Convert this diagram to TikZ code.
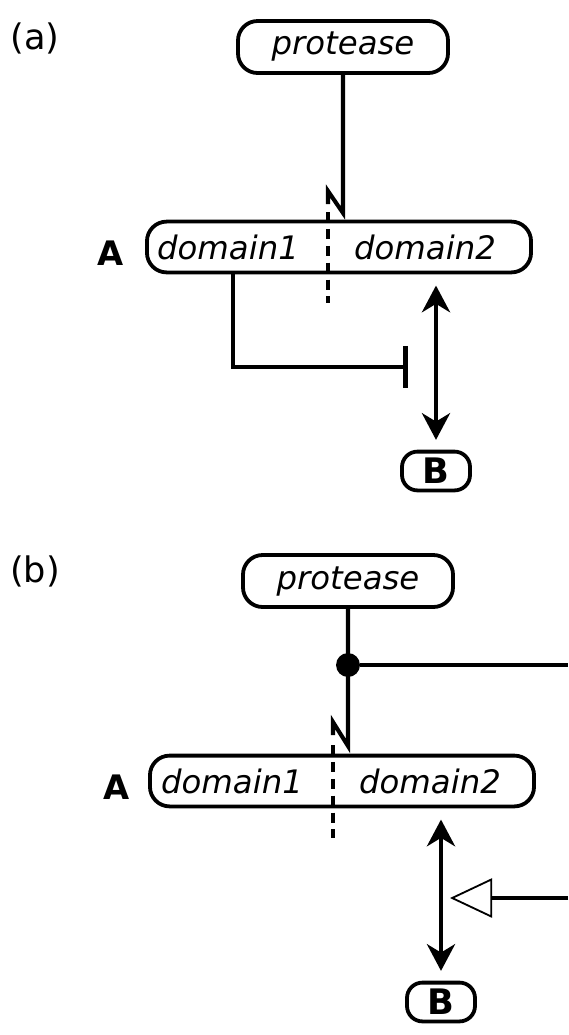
\documentclass[tikz,border=0pt]{standalone}
\usepackage{fontspec}
\setsansfont{DejaVu Sans}
\usetikzlibrary{arrows.meta,shapes,calc}
\tikzset{
  rbox/.style = {draw=black, line width=2.7pt, rounded corners=14pt, inner sep=0pt},
  box_p/.style = {rbox, minimum width=5.25cm, minimum height=1.3cm, font=\sffamily\itshape\fontsize{23}{26}\selectfont},
  box_d/.style = {rbox, minimum width=9.6cm, minimum height=1.27cm},
  box_b/.style = {rbox, minimum width=1.7cm, minimum height=0.97cm, rounded corners=11pt, font=\sffamily\bfseries\fontsize{25}{28}\selectfont},
  dtext/.style = {inner sep=0pt, font=\sffamily\itshape\fontsize{23}{26}\selectfont},
  albl/.style = {inner sep=0pt, font=\sffamily\bfseries\fontsize{24}{26}\selectfont},
  plbl/.style = {inner sep=0pt, font=\sffamily\fontsize{25}{28}\selectfont},
  wire/.style = {line width=2.9pt},
  brk/.style = {line width=2.2pt, dash pattern=on 7.5pt off 4.5pt},
  bind/.style = {wire, {Stealth[length=19pt,width=20pt,inset=6pt]}-{Stealth[length=19pt,width=20pt,inset=6pt]}},
  knob/.style = {circle, fill=black, inner sep=0pt, minimum size=17pt}
}

\begin{document}
\begin{tikzpicture}[x=0.025cm,y=-0.025cm]
\useasboundingbox (0,0) rectangle (568,1035);

% (a)
\node [plbl] (pa) at (35,38) {(a)};
\node [box_p] (prota) at (343,47) {protease};
\node [box_d] (doma) at (339,247) {};
\node [dtext] (d1a) at (228,247) {domain1};
\node [dtext] (d2a) at (425,247) {domain2};
\node [albl] (lA_a) at (111,253) {A};
\node [box_b] (Ba) at (436,471) {B};

\coordinate (ka1) at (343,213);
\coordinate (ka2) at (328,191);
\coordinate (ka3) at (328,204);
\coordinate (da1) at (328,212);
\coordinate (da2) at (328,303);
\coordinate (ia1) at (233,367);
\coordinate (ia2) at (408,367);

\draw [wire] (prota.south) -- (ka1) -- (ka2) -- (ka3);
\draw [brk] (da1) -- (da2);
\draw [wire, -{Bar[width=30pt,line width=3.8pt]}] (doma.south -| ia1) -- (ia1) -- (ia2);
\draw [bind, shorten <=8pt, shorten >=7pt] (doma.south -| Ba.north) -- (Ba.north);

% (b)
\node [plbl] (pb) at (35,571) {(b)};
\node [box_p] (protb) at (348,581) {protease};
\node [box_d] (domb) at (342,781) {};
\node [dtext] (d1b) at (232,781) {domain1};
\node [dtext] (d2b) at (430,781) {domain2};
\node [albl] (lA_b) at (117,787) {A};
\node [box_b] (Bb) at (441,1002) {B};
\node [knob] (dotb) at (348,665) {};

\coordinate (kb1) at (348,746);
\coordinate (kb2) at (333,722);
\coordinate (kb3) at (333,735);
\coordinate (db1) at (333,745);
\coordinate (db2) at (333,838);
\coordinate (eb1) at (568,665);
\coordinate (eb2) at (568,898);
\coordinate (tb) at (450,898);

\draw [wire] (protb.south) -- (kb1) -- (kb2) -- (kb3);
\draw [brk] (db1) -- (db2);
\draw [wire] (dotb) -- (eb1);
\draw [bind, shorten <=8pt, shorten >=7pt] (domb.south -| Bb.north) -- (Bb.north);
\draw [wire, -{Triangle[open,fill=white,length=30pt,width=28pt,line width=1.3pt]}] (eb2) -- (tb);
\end{tikzpicture}
\end{document}
